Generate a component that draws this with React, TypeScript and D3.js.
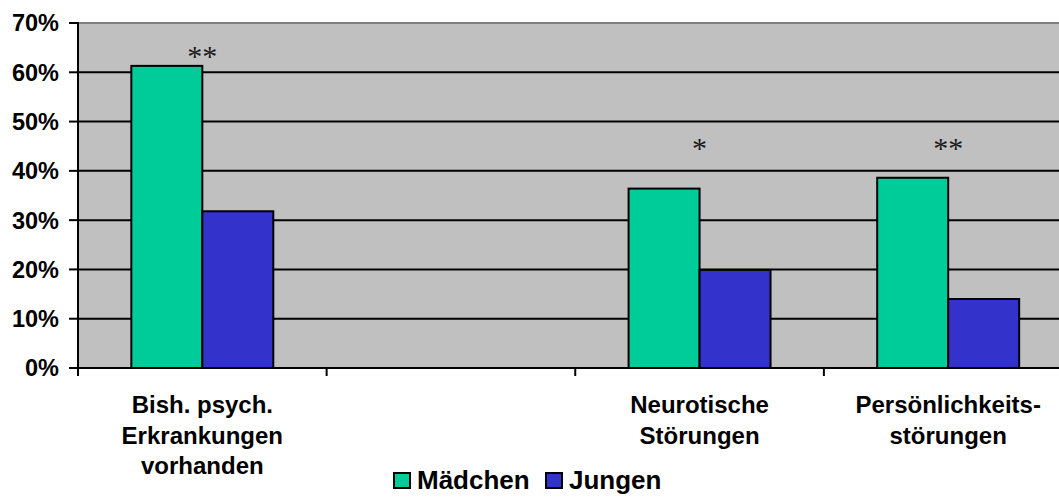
import React from "react";
import * as d3 from "d3";

const categories: string[][] = [
  ["Bish. psych.", "Erkrankungen", "vorhanden"],
  [],
  ["Neurotische", "Störungen"],
  ["Persönlichkeits-", "störungen"],
];
const seriesNames = ["Mädchen", "Jungen"];
const seriesColors = ["#00CC99", "#3333CC"];
const maedchen: (number | null)[] = [61.3, null, 36.4, 38.6];
const jungen: (number | null)[] = [31.8, null, 19.9, 14.0];
const significance = ["**", "", "*", "**"];
const significanceLevel: (number | null)[] = [63.8, null, 45.1, 45.1];
const yTicks = [0, 10, 20, 30, 40, 50, 60, 70];

const W = 1059;
const H = 497;
const left = 78;
const top = 23;
const bottom = 368;
const plotRight = 1072.5;

export default function App() {
  const catIdx = categories.map((_, i) => String(i));
  const x = d3.scaleBand<string>().domain(catIdx).range([left, plotRight]).padding(0);
  const bw = x.bandwidth();
  const x1 = d3
    .scaleBand<string>()
    .domain(seriesNames)
    .range([bw * 0.2145, bw * 0.7855])
    .padding(0);
  const y = d3.scaleLinear().domain([0, 70]).range([bottom, top]);
  const series = [maedchen, jungen];
  const font = "Arial, 'Liberation Sans', Helvetica, sans-serif";

  return (
    <svg
      width={W}
      height={H}
      style={{ position: "absolute", left: 0, top: 0, display: "block" }}
      fontFamily={font}
    >
      <rect x={0} y={0} width={W} height={H} fill="#ffffff" />
      {/* plot area */}
      <rect x={left} y={top} width={plotRight - left} height={bottom - top} fill="#C0C0C0" />
      <line x1={left} x2={W} y1={top} y2={top} stroke="#808080" strokeWidth={2} />
      {/* gridlines */}
      {yTicks
        .filter((t) => t > 0 && t < 70)
        .map((t) => (
          <line key={t} x1={left} x2={W} y1={y(t)} y2={y(t)} stroke="#000" strokeWidth={2} />
        ))}
      {/* bars */}
      {catIdx.map((c, i) =>
        series.map((s, si) => {
          const v = s[i];
          if (v == null) return null;
          const bx = (x(c) as number) + (x1(seriesNames[si]) as number);
          return (
            <rect
              key={c + "-" + si}
              x={bx}
              y={y(v)}
              width={x1.bandwidth()}
              height={y(0) - y(v)}
              fill={seriesColors[si]}
              stroke="#000"
              strokeWidth={2}
            />
          );
        })
      )}
      {/* significance marks */}
      {catIdx.map((c, i) => {
        const lv = significanceLevel[i];
        if (lv == null || !significance[i]) return null;
        return (
          <text
            key={"s" + c}
            x={(x(c) as number) + bw / 2}
            y={y(lv) + 12}
            textAnchor="middle"
            fontFamily="'Liberation Serif', 'Times New Roman', serif"
            fontSize={30}
            fill="#1a1a1a"
          >
            {significance[i]}
          </text>
        );
      })}
      {/* y axis */}
      <line x1={left} x2={left} y1={top - 1} y2={bottom + 1} stroke="#000" strokeWidth={2} />
      {yTicks.map((t) => (
        <g key={"yt" + t}>
          <line x1={left - 9} x2={left} y1={y(t)} y2={y(t)} stroke="#000" strokeWidth={2} />
          <text
            x={left - 19}
            y={y(t)}
            dy="0.36em"
            textAnchor="end"
            fontSize={23.5}
            fontWeight="bold"
            fill="#000"
          >
            {t + "%"}
          </text>
        </g>
      ))}
      {/* x axis */}
      <line x1={left} x2={W} y1={bottom} y2={bottom} stroke="#000" strokeWidth={2} />
      {catIdx.map((c) => (
        <line
          key={"xt" + c}
          x1={x(c) as number}
          x2={x(c) as number}
          y1={bottom}
          y2={bottom + 8}
          stroke="#000"
          strokeWidth={2}
        />
      ))}
      {catIdx.map((c, i) => (
        <text
          key={"xl" + c}
          x={(x(c) as number) + bw / 2}
          y={413}
          textAnchor="middle"
          fontSize={24}
          fontWeight="bold"
          fill="#000"
        >
          {categories[i].map((line, li) => (
            <tspan key={li} x={(x(c) as number) + bw / 2} dy={li === 0 ? 0 : 30.5}>
              {line}
            </tspan>
          ))}
        </text>
      ))}
      {/* legend */}
      {seriesNames.map((name, si) => {
        const lx = si === 0 ? 394 : 546;
        return (
          <g key={"lg" + name}>
            <rect x={lx} y={473} width={16} height={15} fill={seriesColors[si]} stroke="#000" strokeWidth={2} />
            <text x={lx + 23} y={488.5} fontSize={26} fontWeight="bold" fill="#000">
              {name}
            </text>
          </g>
        );
      })}
    </svg>
  );
}
